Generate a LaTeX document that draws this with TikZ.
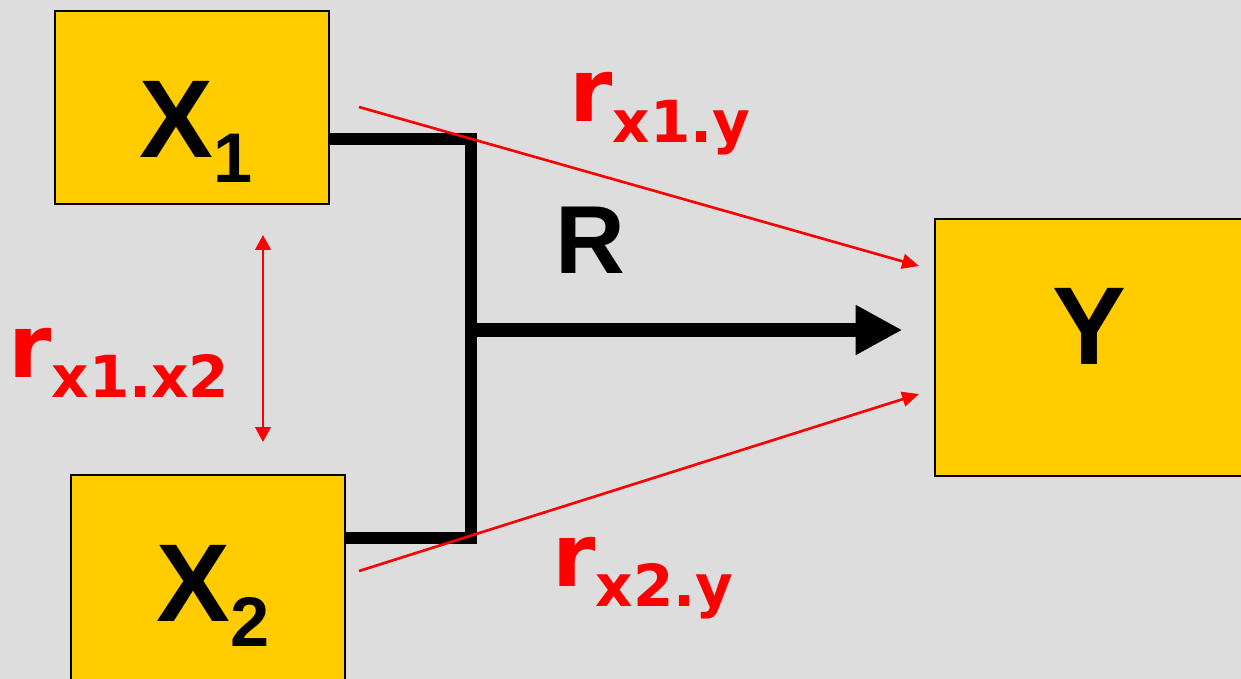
\documentclass[tikz,border=0pt]{standalone}
\usepackage{fontspec}
\setmainfont{Liberation Sans}
\newfontfamily\corrfont{DejaVu Sans}
\usetikzlibrary{arrows.meta}
\definecolor{boxgold}{HTML}{FFCC00}
\definecolor{slidegrey}{HTML}{DDDDDD}
\tikzset{
  varbox/.style={draw=black, line width=1.2pt, fill=boxgold, inner sep=0pt, anchor=north west},
  varlab/.style={anchor=base west, inner sep=0pt, font=\bfseries\fontsize{63}{63}\selectfont},
  corrlab/.style={anchor=base west, inner sep=0pt, text=red, font=\corrfont\bfseries\fontsize{50}{50}\selectfont},
  junction/.style={line width=6.8pt, line join=miter},
  corr/.style={red, line width=1.5pt, -{Triangle[length=9.6pt,width=8.4pt]}},
}
\newcommand{\corrsub}[1]{\raisebox{-11.9pt}{\fontsize{33}{33}\selectfont #1}}
\newcommand{\varsub}[1]{\raisebox{-14.7pt}{\fontsize{40}{40}\selectfont #1}}
\begin{document}
\begin{tikzpicture}[x=0.02cm, y=-0.02cm]
\clip (0,0) rectangle (1241,679);
\fill[slidegrey] (0,0) rectangle (1241,679);
% variable boxes
\node[varbox, minimum width=5.48cm, minimum height=3.86cm] (x1) at (54,10) {};
\node[varbox, minimum width=5.48cm, minimum height=6cm] (x2) at (70,474) {};
\node[varbox, minimum width=8cm, minimum height=5.14cm] (y) at (934,218) {};
\node[varlab] (x1lab) at (139,157) {X\varsub{1}};
\node[varlab] (x2lab) at (156,621) {X\varsub{2}};
\node[varlab] (ylab) at (1052,364) {Y};
\node[varlab, font=\bfseries\fontsize{55}{55}\selectfont] (rlab) at (555,273) {R};
% correlation labels
\node[corrlab] (r1y) at (569,122) {r\corrsub{x1.y}};
\node[corrlab] (r2y) at (552,586) {r\corrsub{x2.y}};
\node[corrlab] (r12) at (8,377) {r\corrsub{x1.x2}};
% multiple correlation
\coordinate (jtop) at (471,139);
\coordinate (jmid) at (471,330);
\coordinate (jbot) at (471,538);
\draw[junction] (x1.east |- jtop) -- (jtop) -- (jbot) -- (x2.east |- jbot);
\draw[line width=8.5pt, -{Triangle[length=26.6pt,width=26.6pt]}, shorten >=18pt] (jmid) -- (y.west |- jmid);
% simple correlations
\coordinate (c1a) at (359,107);
\coordinate (c1b) at (919,266);
\coordinate (c2a) at (359,571);
\coordinate (c2b) at (919,394);
\coordinate (c3a) at (263,235);
\coordinate (c3b) at (263,442);
\draw[corr] (c1a) -- (c1b);
\draw[corr] (c2a) -- (c2b);
\draw[corr, {Triangle[length=8.5pt,width=8.8pt]}-{Triangle[length=8.5pt,width=8.8pt]}] (c3a) -- (c3b);
\end{tikzpicture}
\end{document}
